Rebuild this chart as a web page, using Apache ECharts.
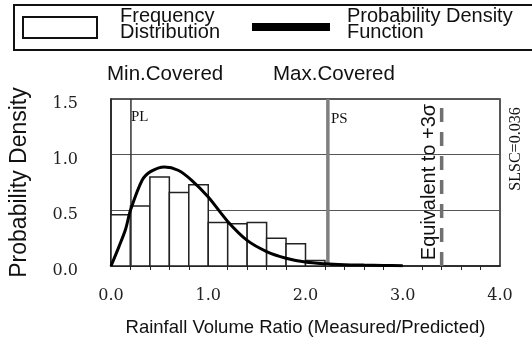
<!DOCTYPE html>
<html>
<head>
<meta charset="utf-8">
<script src="https://cdn.jsdelivr.net/npm/echarts@6/dist/echarts.min.js"></script>
<style>html,body{margin:0;padding:0;background:#fff}#main{width:532px;height:339px}</style>
</head>
<body>
<div id="main"></div>
<script>
// histogram bins: [from, to, density]
var binStarts = [0.0, 0.2, 0.4, 0.6, 0.8, 1.0, 1.2, 1.4, 1.6, 1.8, 2.0];
var binWidth = 0.2;
var binValues = [0.46, 0.54, 0.80, 0.66, 0.73, 0.39, 0.38, 0.39, 0.25, 0.20, 0.05];

// probability density curve
var pdfX = [0.0, 0.08, 0.15, 0.2, 0.32, 0.41, 0.55, 0.69, 0.83, 1.0, 1.2, 1.4, 1.6, 1.8, 2.0, 2.2, 2.4, 2.6, 2.8, 3.0];
var pdfY = [0.0, 0.17, 0.33, 0.50, 0.77, 0.85, 0.89, 0.86, 0.77, 0.62, 0.40, 0.23, 0.13, 0.07, 0.035, 0.02, 0.012, 0.008, 0.005, 0.003];

var plX = 0.205, psX = 2.23, sigmaX = 3.40;

var chart = echarts.init(document.getElementById('main'));
var serif = '"DejaVu Serif", serif';
var sans = '"Liberation Sans", Arial, sans-serif';

function vline(x, color, width, type) {
    return {
        type: 'line', data: [[x, 0], [x, 1.5]], symbol: 'none', silent: true,
        lineStyle: {color: color, width: width, type: type}, z: 5
    };
}

chart.setOption({
    animation: false,
    grid: {left: 109, right: 32, top: 99, bottom: 73, show: true, borderColor: '#222', borderWidth: 1.5},
    xAxis: {
        type: 'value', min: 0, max: 4, interval: 1,
        name: 'Rainfall Volume Ratio (Measured/Predicted)', nameLocation: 'middle', nameGap: 52,
        nameTextStyle: {fontFamily: sans, fontSize: 18.5, color: '#111'},
        axisLine: {lineStyle: {color: '#222', width: 1.5}},
        axisTick: {show: false},
        minorTick: {show: true, splitNumber: 5, length: 4, lineStyle: {color: '#222'}},
        axisLabel: {fontFamily: serif, fontSize: 16, color: '#222', margin: 22,
            formatter: function (v) { return v.toFixed(1); }},
        splitLine: {show: false}
    },
    yAxis: {
        type: 'value', min: 0, max: 1.5, interval: 0.5,
        name: 'Probability Density', nameLocation: 'middle', nameGap: 80, nameRotate: 90,
        nameTextStyle: {fontFamily: sans, fontSize: 23, color: '#111'},
        axisLine: {show: true, lineStyle: {color: '#222', width: 1.5}},
        axisTick: {show: false},
        axisLabel: {fontFamily: serif, fontSize: 16, color: '#222', margin: 33, verticalAlign: 'top', lineHeight: 10,
            formatter: function (v) { return v.toFixed(1); }},
        splitLine: {show: true, lineStyle: {color: '#555', width: 1}}
    },
    graphic: [
        {type: 'rect', shape: {x: 14, y: 5, width: 530, height: 45}, style: {fill: '#fff', stroke: '#111', lineWidth: 2}},
        {type: 'rect', shape: {x: 23, y: 17, width: 74, height: 21}, style: {fill: '#fff', stroke: '#111', lineWidth: 2}},
        {type: 'text', x: 120, y: 8, style: {text: 'Frequency\nDistribution', font: '20px ' + sans, lineHeight: 16, fill: '#111'}},
        {type: 'rect', shape: {x: 252, y: 23, width: 78, height: 8}, style: {fill: '#000'}},
        {type: 'text', x: 347, y: 8, style: {text: 'Probability Density\nFunction', font: '20px ' + sans, lineHeight: 16, fill: '#111'}},
        {type: 'text', x: 107, y: 64, style: {text: 'Min.Covered', font: '20.5px ' + sans, fill: '#111'}},
        {type: 'text', x: 273, y: 64, style: {text: 'Max.Covered', font: '20.5px ' + sans, fill: '#111'}},
        {type: 'text', x: 131, y: 110, style: {text: 'PL', font: '15px "Liberation Serif", serif', fill: '#111'}},
        {type: 'text', x: 331, y: 112, style: {text: 'PS', font: '15px "Liberation Serif", serif', fill: '#111'}},
        {type: 'text', x: 429, y: 182, rotation: Math.PI / 2,
            style: {text: 'Equivalent to +3σ', font: '20px ' + sans, fill: '#111', align: 'center', verticalAlign: 'middle'}},
        {type: 'text', x: 516, y: 149, rotation: Math.PI / 2,
            style: {text: 'SLSC=0.036', font: '16px "Liberation Serif", serif', fill: '#111', align: 'center', verticalAlign: 'middle'}}
    ],
    series: [
        {
            type: 'custom', silent: true, z: 3,
            data: binStarts.map(function (s, i) { return [s, s + binWidth, binValues[i]]; }),
            renderItem: function (params, api) {
                var p0 = api.coord([api.value(0), api.value(2)]);
                var p1 = api.coord([api.value(1), 0]);
                return {type: 'rect', shape: {x: p0[0], y: p0[1], width: p1[0] - p0[0], height: p1[1] - p0[1]},
                    style: {fill: '#fff', stroke: '#222', lineWidth: 1.5}};
            }
        },
        {
            type: 'line', smooth: 0.3, symbol: 'none', silent: true, z: 6,
            data: pdfX.map(function (x, i) { return [x, pdfY[i]]; }),
            lineStyle: {color: '#000', width: 3}
        },
        vline(plX, '#333', 1.5, 'solid'),
        vline(psX, '#808080', 3.5, 'solid'),
        vline(sigmaX, '#707070', 3.5, [14, 10])
    ]
});
</script>
</body>
</html>
